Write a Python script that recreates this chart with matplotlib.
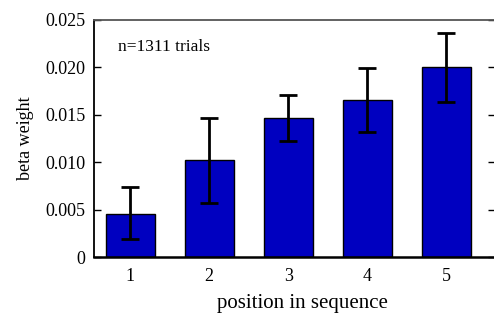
import matplotlib.pyplot as plt
import numpy as np

# ── data ──
positions = [1, 2, 3, 4, 5]
beta = [0.00454, 0.0102, 0.01463, 0.01656, 0.02007]
err_hi = [0.00735, 0.0147, 0.01709, 0.01997, 0.0236]
err_lo = [0.0019, 0.00566, 0.01227, 0.01315, 0.01632]
yticks = [0, 0.005, 0.010, 0.015, 0.020, 0.025]
ytick_labels = ["0", "0.005", "0.010", "0.015", "0.020", "0.025"]

plt.rcParams["font.family"] = ["Liberation Serif", "DejaVu Serif"]

fig = plt.figure(figsize=(4.94, 3.15), dpi=100)
ax = fig.add_axes([94 / 494, 1 - 257 / 315, 401 / 494, 237 / 315])

beta_arr = np.array(beta)
yerr = np.array([beta_arr - np.array(err_lo), np.array(err_hi) - beta_arr])

ax.bar(positions, beta, width=0.62, color="#0000C0", edgecolor="black",
       linewidth=1.0, zorder=2)
ax.errorbar(positions, beta, yerr=yerr, fmt="none", ecolor="black",
            elinewidth=2.0, capsize=6.5, capthick=2.0, zorder=3)

ax.set_xlim(0.54, 5.62)
ax.set_ylim(0, 0.025)
ax.set_xticks(positions)
ax.set_xticklabels([str(p) for p in positions])
ax.set_yticks(yticks)
ax.set_yticklabels(ytick_labels)

ax.tick_params(axis="y", direction="in", length=5, width=1.0,
               right=True, labelsize=13, pad=6)
ax.tick_params(axis="x", length=0, labelsize=13, pad=8)

for side in ["left", "bottom", "right"]:
    ax.spines[side].set_color("black")
ax.spines["left"].set_linewidth(1.3)
ax.spines["bottom"].set_linewidth(1.8)
ax.spines["top"].set_color("#555555")
ax.spines["top"].set_linewidth(1.3)

ax.set_xlabel("position in sequence", fontsize=15)
ax.xaxis.set_label_coords(0.519, -0.158)
ax.set_ylabel("beta weight", fontsize=13, labelpad=8)

ax.text(0.06, 0.885, "n=1311 trials", transform=ax.transAxes,
        fontsize=12.5, va="center", ha="left")

fig.savefig("out.png", dpi=100)
